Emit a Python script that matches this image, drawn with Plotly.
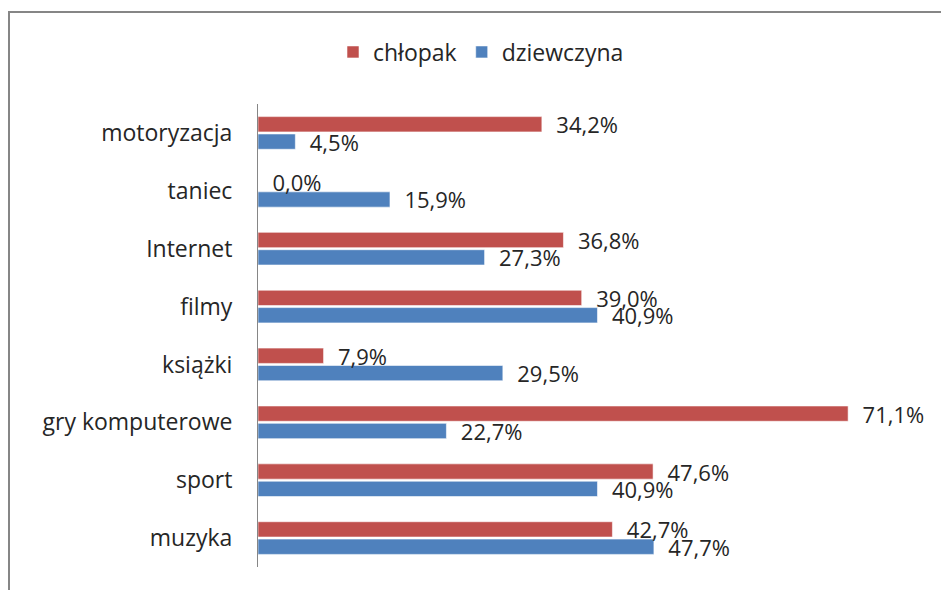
import plotly.graph_objects as go

# Interests by gender (% of respondents), listed top to bottom
categories = ["motoryzacja", "taniec", "Internet", "filmy", "książki",
              "gry komputerowe", "sport", "muzyka"]
chlopak = [34.2, 0.0, 36.8, 39.0, 7.9, 71.1, 47.6, 42.7]
dziewczyna = [4.5, 15.9, 27.3, 40.9, 29.5, 22.7, 40.9, 47.7]
series_names = ["chłopak", "dziewczyna"]

RED = "#C0504D"
BLUE = "#4F81BD"
TEXT = "#262626"
FONT = "Open Sans"

W, H = 941, 590
M_L, M_R, M_T, M_B = 258, 19, 104, 23


def pct_label(v):
    # Polish notation: decimal comma
    return "  " + f"{v:.1f}".replace(".", ",") + "%"


# Bottom-up category order so the second trace (chłopak) sits on top of
# each pair and its labels are drawn above the dziewczyna bars.
cats_up = categories[::-1]

fig = go.Figure()
for name, vals, col in [(series_names[1], dziewczyna, BLUE),
                        (series_names[0], chlopak, RED)]:
    vals_up = vals[::-1]
    fig.add_trace(go.Bar(
        name=name,
        y=cats_up,
        x=vals_up,
        orientation="h",
        marker=dict(color=col, line=dict(color="rgba(255,255,255,0.7)", width=0.8)),
        text=[pct_label(v) for v in vals_up],
        texttemplate="%{text}",
        textposition="outside",
        constraintext="none",
        cliponaxis=False,
        textfont=dict(family=FONT, size=22, color=TEXT),
    ))

# Chart frame (left and top edges fall inside the canvas)
plot_w = W - M_L - M_R
plot_h = H - M_T - M_B
fx0 = (9 - M_L) / plot_w
fy1 = (H - M_B - 12) / plot_h
fig.add_shape(type="rect", xref="paper", yref="paper",
              x0=fx0, x1=1.2, y0=-0.3, y1=fy1,
              line=dict(color="#868686", width=2), layer="below")

legend_x = (481 - M_L) / plot_w
legend_y = (H - M_B - 52) / plot_h

fig.update_layout(
    width=W, height=H,
    margin=dict(l=M_L, r=M_R, t=M_T, b=M_B),
    paper_bgcolor="white",
    plot_bgcolor="white",
    barmode="group",
    bargap=0.40,
    bargroupgap=0.12,
    font=dict(family=FONT, size=23, color=TEXT),
    showlegend=True,
    legend=dict(orientation="h", x=legend_x, xanchor="center",
                y=legend_y, yanchor="middle", traceorder="reversed",
                font=dict(family=FONT, size=23, color=TEXT),
                itemwidth=30, tracegroupgap=0),
    xaxis=dict(range=[0, 80], visible=False, showgrid=False, zeroline=False),
    yaxis=dict(categoryorder="array", categoryarray=cats_up,
               showline=True, linecolor="#868686",
               linewidth=1, ticks="", showgrid=False, zeroline=False,
               ticklabelstandoff=20,
               tickfont=dict(family=FONT, size=23, color=TEXT)),
)

fig.write_html("out.html")
